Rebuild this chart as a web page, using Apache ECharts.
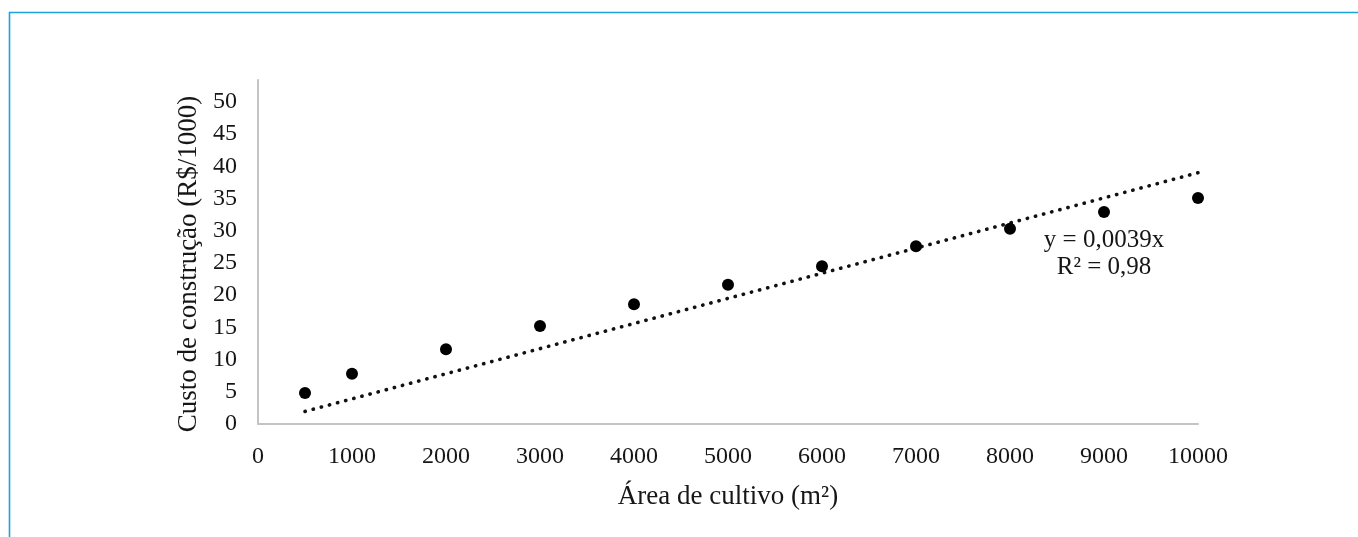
<!DOCTYPE html>
<html>
<head>
<meta charset="utf-8">
<script src="https://cdn.jsdelivr.net/npm/echarts@6/dist/echarts.min.js"></script>
<style>
html,body{margin:0;padding:0;background:#fff;}
#chart{width:1358px;height:537px;}
</style>
</head>
<body>
<div id="chart"></div>
<script>
// Data
const areaValues = [500, 1000, 2000, 3000, 4000, 5000, 6000, 7000, 8000, 9000, 10000];
const costValues = [4.8, 7.8, 11.6, 15.2, 18.6, 21.6, 24.5, 27.6, 30.3, 32.9, 35.1];
const trendX = [500, 10000];
const trendY = [1.95, 39];
const xTicks = [0, 1000, 2000, 3000, 4000, 5000, 6000, 7000, 8000, 9000, 10000];
const yTicks = [0, 5, 10, 15, 20, 25, 30, 35, 40, 45, 50];
const equationText = 'y = 0,0039x';
const r2Text = 'R² = 0,98';
const xAxisTitle = 'Área de cultivo (m²)';
const yAxisTitle = 'Custo de construção (R$/1000)';

const chart = echarts.init(document.getElementById('chart'), null, {renderer: 'canvas'});
const font = 'Liberation Serif';
const axisColor = '#c4c4c4';
const textColor = '#161616';

const option = {
  animation: false,
  backgroundColor: '#ffffff',
  grid: {left: 258, right: 160, top: 80, bottom: 113, containLabel: false},
  xAxis: {
    type: 'value',
    min: xTicks[0],
    max: xTicks[xTicks.length - 1],
    interval: xTicks[1] - xTicks[0],
    name: xAxisTitle,
    nameLocation: 'middle',
    nameGap: 59,
    nameTextStyle: {fontFamily: font, fontSize: 27, color: textColor},
    axisLine: {show: true, lineStyle: {color: axisColor, width: 2}},
    axisTick: {show: false},
    splitLine: {show: false},
    axisLabel: {fontFamily: font, fontSize: 24, color: textColor, margin: 21,
      formatter: function (v) { return String(v); }}
  },
  yAxis: {
    type: 'value',
    min: yTicks[0],
    max: 53.4,
    interval: yTicks[1] - yTicks[0],
    name: yAxisTitle,
    nameLocation: 'middle',
    nameGap: 56,
    nameRotate: 90,
    nameTextStyle: {fontFamily: font, fontSize: 27, color: textColor, padding: [0, 24, 0, 0]},
    axisLine: {show: true, lineStyle: {color: axisColor, width: 2}},
    axisTick: {show: false},
    splitLine: {show: false},
    axisLabel: {
      fontFamily: font, fontSize: 24, color: textColor, margin: 21,
      showMaxLabel: false,
      formatter: function (v) { return yTicks.indexOf(v) >= 0 ? String(v) : ''; }
    }
  },
  series: [
    {
      type: 'line',
      data: trendX.map((x, i) => [x, trendY[i]]),
      symbol: 'none',
      lineStyle: {color: '#111', width: 3.6, type: [0.3, 8.1], cap: 'round'},
      z: 2
    },
    {
      type: 'scatter',
      data: areaValues.map((x, i) => [x, costValues[i]]),
      symbol: 'circle',
      symbolSize: 12,
      itemStyle: {color: '#000', opacity: 1},
      z: 3
    }
  ]
};
chart.setOption(option);

// Trendline equation label, anchored to data coordinates
const p1 = chart.convertToPixel({gridIndex: 0}, [9000, 28.5]);
const p2 = chart.convertToPixel({gridIndex: 0}, [9000, 24.3]);
chart.setOption({
  graphic: [
    {
      type: 'polyline',
      shape: {points: [[9.5, 1400], [9.5, 12.5], [1400, 12.5]]},
      style: {stroke: '#1aa3dc', lineWidth: 1.6, fill: null},
      silent: true
    },
    {
      type: 'text', x: p1[0], y: p1[1],
      style: {text: equationText, font: '25px "Liberation Serif"', fill: textColor, align: 'center', verticalAlign: 'middle'}
    },
    {
      type: 'text', x: p2[0], y: p2[1],
      style: {text: r2Text, font: '25px "Liberation Serif"', fill: textColor, align: 'center', verticalAlign: 'middle'}
    }
  ]
});
</script>
</body>
</html>
